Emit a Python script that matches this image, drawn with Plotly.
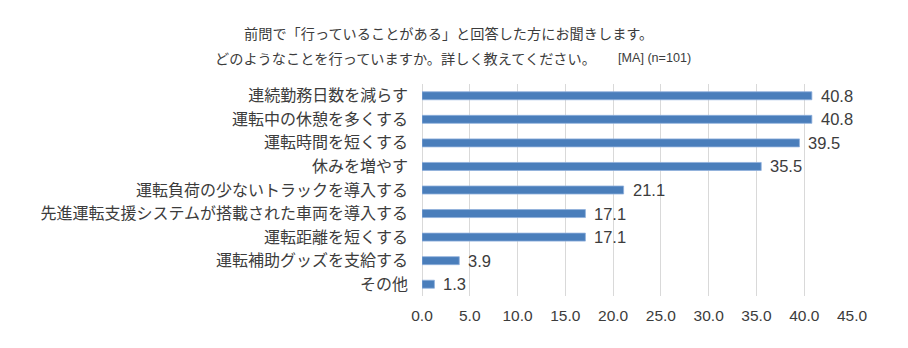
import plotly.graph_objects as go

# Survey responses (% of respondents, multiple answers allowed, n=101)
categories = [
    "連続勤務日数を減らす",
    "運転中の休憩を多くする",
    "運転時間を短くする",
    "休みを増やす",
    "運転負荷の少ないトラックを導入する",
    "先進運転支援システムが搭載された車両を導入する",
    "運転距離を短くする",
    "運転補助グッズを支給する",
    "その他",
]
values = [40.8, 40.8, 39.5, 35.5, 21.1, 17.1, 17.1, 3.9, 1.3]
tick_vals = [0, 5, 10, 15, 20, 25, 30, 35, 40, 45]
tick_text = [f"{v:.1f}" for v in tick_vals]

title_line1 = "前問で「行っていることがある」と回答した方にお聞きします。"
title_line2 = "どのようなことを行っていますか。詳しく教えてください。"
title_note = "[MA] (n=101)"

JP = "Noto Sans CJK JP"
LATIN = "Liberation Sans, Arial"
TEXT = "#3c3c3c"
GRID = "#d9d9d9"

W, H = 908, 348
L, R, T, B = 422, 56, 84, 52
plot_w = W - L - R
plot_h = H - T - B


def px_x(x):
    return (x - L) / plot_w


def px_y(y):
    return (H - B - y) / plot_h


fig = go.Figure(
    go.Bar(
        x=values,
        y=categories,
        orientation="h",
        marker=dict(color="#4a7ebb", line=dict(color="#8fb0dc", width=0.8)),
        hoverinfo="skip",
    )
)

annotations = []
for cat, v in zip(categories, values):
    annotations.append(dict(
        x=v, y=cat, xref="x", yref="y",
        text=f"{v:.1f}", showarrow=False,
        xanchor="left", yanchor="middle", xshift=7,
        font=dict(family=LATIN, size=16.5, color=TEXT),
    ))

annotations += [
    dict(x=px_x(448), y=px_y(33), xref="paper", yref="paper",
         text=title_line1, showarrow=False, xanchor="center", yanchor="middle",
         font=dict(family=JP, size=14.2, color=TEXT)),
    dict(x=px_x(213), y=px_y(58), xref="paper", yref="paper",
         text=title_line2, showarrow=False, xanchor="left", yanchor="middle",
         font=dict(family=JP, size=14.2, color=TEXT)),
    dict(x=px_x(616), y=px_y(58), xref="paper", yref="paper",
         text=title_note, showarrow=False, xanchor="left", yanchor="middle",
         font=dict(family=LATIN, size=12.6, color=TEXT)),
]

fig.update_layout(
    width=W, height=H,
    margin=dict(l=L, r=R, t=T, b=B, pad=0),
    paper_bgcolor="white", plot_bgcolor="white",
    bargap=0.66,
    showlegend=False,
    annotations=annotations,
    xaxis=dict(
        range=[0, 45], tickvals=tick_vals, ticktext=tick_text,
        showgrid=True, gridcolor=GRID, gridwidth=1,
        zeroline=True, zerolinecolor=GRID, zerolinewidth=1,
        showline=False, ticks="", ticklabelstandoff=8,
        tickfont=dict(family=LATIN, size=15.5, color=TEXT),
        fixedrange=True,
    ),
    yaxis=dict(
        autorange="reversed", showgrid=False, zeroline=False,
        showline=False, ticks="", ticklabelstandoff=13,
        tickfont=dict(family=JP, size=16, color=TEXT),
        fixedrange=True,
    ),
)

fig.write_html("out.html", config={"displayModeBar": False})
